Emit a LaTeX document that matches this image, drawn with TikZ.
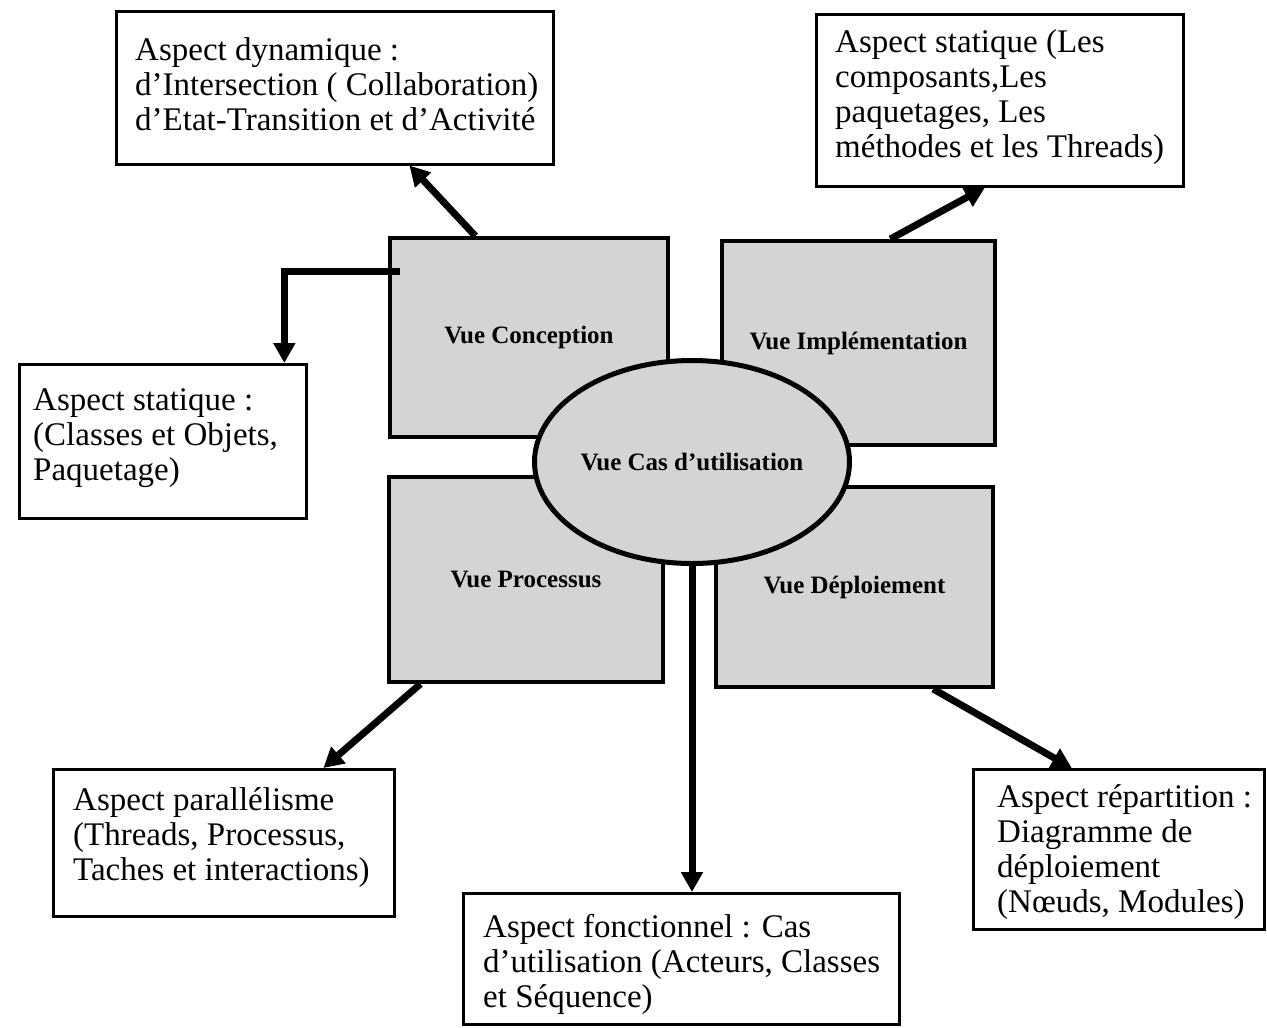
\documentclass[tikz,border=0pt]{standalone}
\usepackage{fontspec}
\setmainfont{Liberation Serif}
\usetikzlibrary{arrows.meta,shapes.geometric,calc}
\begin{document}
\begin{tikzpicture}[x=1pt,y=-1pt,
  aspectbox/.style={draw=black, line width=2.5pt, fill=white, anchor=north west, inner sep=0pt},
  textblock/.style={anchor=west, align=left, inner sep=0pt, font=\fontsize{33}{35}\selectfont},
  viewbox/.style={draw=black, line width=4pt, fill=black!17, inner sep=0pt,
    font=\fontsize{25}{27}\selectfont\bfseries},
  link/.style={line width=7pt, -{Triangle[length=20pt,width=21pt]}},
]
\useasboundingbox (0,0) rectangle (1267,1028);

% the four views
\node[viewbox, minimum width=278pt, minimum height=199pt] (conc) at (529,337.5) {Vue Conception};
\node[viewbox, minimum width=273pt, minimum height=204pt] (impl) at (858.5,343) {Vue Implémentation};
\node[viewbox, minimum width=274pt, minimum height=205pt] (proc) at (526,579.5) {Vue Processus};
\node[viewbox, minimum width=277pt, minimum height=200pt] (depl) at (854.5,587) {Vue Déploiement};
% central use-case view
\node[viewbox, ellipse, line width=5pt, minimum width=277pt, minimum height=203pt] (cas) at (692,462) {Vue Cas d’utilisation};

% aspect boxes
\node[aspectbox, minimum width=437pt, minimum height=153pt] (dyn) at (115,10) {};
\node[textblock] (dynT) at (135,84) {Aspect dynamique :\\d’Intersection ( Collaboration)\\d’Etat-Transition et d’Activité};

\node[aspectbox, minimum width=367pt, minimum height=172pt] (statR) at (815,13) {};
\node[textblock] (statRT) at (835,97.5) {Aspect statique (Les\\composants,Les\\paquetages, Les\\méthodes et les Threads)};

\node[aspectbox, minimum width=287pt, minimum height=154pt] (statL) at (18,363) {};
\node[textblock] (statLT) at (33,438) {Aspect statique :\\(Classes et Objets,\\Paquetage)};

\node[aspectbox, minimum width=341pt, minimum height=147pt] (par) at (52,768) {};
\node[textblock] (parT) at (73,837.5) {Aspect parallélisme\\(Threads, Processus,\\Taches et interactions)};

\node[aspectbox, minimum width=436pt, minimum height=131pt] (fonc) at (462,892) {};
\node[textblock] (foncT) at (483,964) {Aspect fonctionnel : Cas\\d’utilisation (Acteurs, Classes\\et Séquence)};

\node[aspectbox, minimum width=291pt, minimum height=160pt] (rep) at (972,768) {};
\node[textblock] (repT) at (997,852.5) {Aspect répartition :\\Diagramme de\\déploiement\\(Nœuds, Modules)};

% connectors
\draw[link] ($(conc.north west)!0.31!(conc.north east)$) -- ($(dyn.south west)!0.67!(dyn.south east)$);
\draw[link] ($(conc.north west)+(12,35)$) -| ($(statL.north west)!0.92!(statL.north east)$);
\draw[link] ($(impl.north west)!0.615!(impl.north east)$) -- ($(statR.south west)!0.46!(statR.south east)$);
\draw[link] ($(proc.south west)!0.12!(proc.south east)$) -- ($(par.north west)!0.79!(par.north east)$);
\draw[link] ($(depl.south west)!0.78!(depl.south east)$) -- ($(rep.north west)!0.34!(rep.north east)$);
\draw[link] (cas.south) -- (cas.south |- fonc.north);
\end{tikzpicture}
\end{document}
